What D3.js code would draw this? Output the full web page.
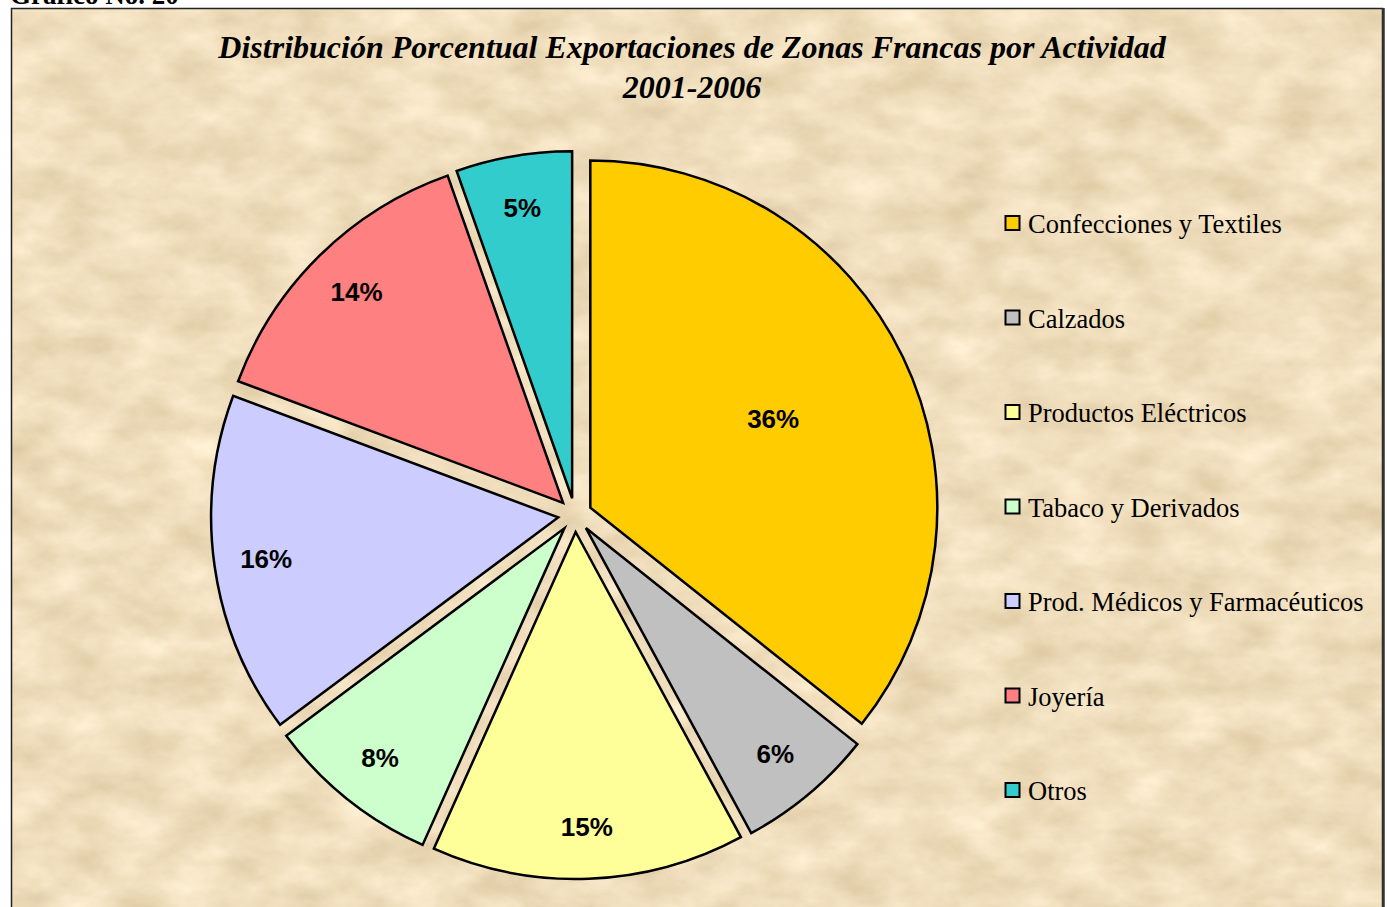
<!DOCTYPE html>
<html><head><meta charset="utf-8">
<script src="https://cdn.jsdelivr.net/npm/d3@7"></script>
<style>html,body{margin:0;padding:0;background:#fff;overflow:hidden}</style>
</head><body>
<svg id="chart" width="1387" height="907"></svg>
<script>
const categories = ["Confecciones y Textiles","Calzados","Productos Eléctricos","Tabaco y Derivados","Prod. Médicos y Farmacéuticos","Joyería","Otros"];
const values = [35.7, 6.4, 14.6, 8.1, 15.9, 13.9, 5.4];
const colors = ["#FFCC00","#C0C0C0","#FFFF99","#CCFFCC","#CCCCFF","#FF8080","#33CCCC"];
const titleLines = ["Distribución Porcentual Exportaciones de Zonas Francas por Actividad","2001-2006"];
const caption = "Gráfico No. 20";

const svg = d3.select("#chart");
const W = 1387, H = 907;

// parchment texture
const defs = svg.append("defs");
const f = defs.append("filter").attr("id","paper").attr("x",0).attr("y",0).attr("width","100%").attr("height","100%")
  .attr("color-interpolation-filters","sRGB");
f.append("feTurbulence").attr("type","fractalNoise").attr("baseFrequency","0.018 0.03").attr("numOctaves",5).attr("seed",7).attr("result","n");
f.append("feColorMatrix").attr("in","n").attr("type","matrix")
  .attr("values","0.16 0 0 0 0.86  0.19 0 0 0 0.775  0.24 0 0 0 0.62  0 0 0 0 1");

svg.append("text").attr("x",10).attr("y",4)
  .style("font-family","'Liberation Serif','Times New Roman',serif").style("font-weight","bold").style("font-size","27px")
  .text(caption);

svg.append("rect").attr("x",11).attr("y",8).attr("width",1372).attr("height",920).attr("filter","url(#paper)");
svg.append("rect").attr("x",11.5).attr("y",8.5).attr("width",1371).attr("height",920)
  .attr("fill","none").attr("stroke","#222").attr("stroke-width",1.5);
svg.append("line").attr("x1",1383.5).attr("x2",1383.5).attr("y1",8).attr("y2",H).attr("stroke","#333").attr("stroke-width",2.5);

// title
const title = svg.append("text").attr("text-anchor","middle")
  .style("font-family","'Liberation Serif','Times New Roman',serif").style("font-weight","bold").style("font-style","italic").style("font-size","32px");
titleLines.forEach((t,i)=>title.append("tspan").attr("x",692).attr("y",58+i*40).text(t));

// pie
const cx = 575, cy = 515, R = 347, explode = 17;
const total = d3.sum(values);
const pie = d3.pie().sort(null).startAngle(0).endAngle(2*Math.PI);
const arcs = pie(values);
const arc = d3.arc().innerRadius(0).outerRadius(R);
const g = svg.append("g").attr("transform",`translate(${cx},${cy})`);
const slices = g.selectAll("g.slice").data(arcs).join("g").attr("class","slice")
  .attr("transform", d=>{const m=(d.startAngle+d.endAngle)/2; return `translate(${explode*Math.sin(m)},${-explode*Math.cos(m)})`;});
slices.append("path").attr("d",arc).attr("fill",(d,i)=>colors[i]).attr("stroke","#000").attr("stroke-width",2.5).attr("stroke-linejoin","miter");
const lk = d => d.value/total>0.3 ? 0.585 : 0.85;
slices.append("text")
  .attr("x", d=>{const m=(d.startAngle+d.endAngle)/2; return lk(d)*R*Math.sin(m);})
  .attr("y", d=>{const m=(d.startAngle+d.endAngle)/2; return -lk(d)*R*Math.cos(m);})
  .attr("text-anchor","middle").attr("dominant-baseline","central")
  .style("font-family","Arial,'Liberation Sans',sans-serif").style("font-weight","bold").style("font-size","26px")
  .text(d=>Math.round(d.value/total*100)+"%");

// legend
const lg = svg.append("g");
const items = lg.selectAll("g").data(categories).join("g").attr("transform",(d,i)=>`translate(1005,${223+i*94.5})`);
items.append("rect").attr("x",0.5).attr("y",-7).attr("width",14).attr("height",14).attr("fill",(d,i)=>colors[i]).attr("stroke","#000").attr("stroke-width",2);
items.append("text").attr("x",23).attr("y",1).attr("dominant-baseline","central")
  .style("font-family","'Liberation Serif','Times New Roman',serif").style("font-size","26.5px").text(d=>d);
</script>
</body></html>
